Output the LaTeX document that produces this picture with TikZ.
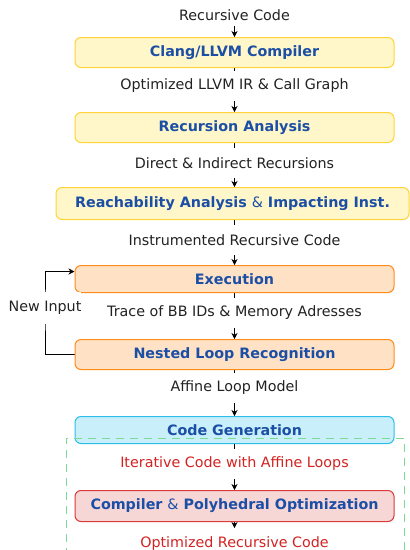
\documentclass[tikz,border=0pt]{standalone}
\usepackage{fontspec}
\setmainfont{DejaVu Sans}
\usetikzlibrary{arrows.meta,backgrounds}
\definecolor{ylwfill}{HTML}{FFF6C9}
\definecolor{ylwline}{HTML}{FFD43B}
\definecolor{orgfill}{HTML}{FFE2C6}
\definecolor{orgline}{HTML}{FF8C1A}
\definecolor{cyanfill}{HTML}{C9EFFA}
\definecolor{cyanline}{HTML}{2CBDEB}
\definecolor{redfill}{HTML}{F7D6D6}
\definecolor{redline}{HTML}{D93A3A}
\definecolor{txtblue}{HTML}{1B4FA6}
\definecolor{txtred}{HTML}{D42222}
\definecolor{txtdark}{HTML}{222222}
\definecolor{dashgreen}{HTML}{7ADB95}
\begin{document}
\begin{tikzpicture}[x=1pt,y=1pt,
  font=\fontsize{14.3}{17}\selectfont,
  stagebox/.style={draw, rounded corners=6pt, line width=1pt, minimum width=319pt,
    minimum height=30pt, inner sep=0pt, font=\fontsize{14.3}{17}\selectfont\bfseries, text=txtblue},
  ylw/.style={stagebox, fill=ylwfill, draw=ylwline},
  org/.style={stagebox, fill=orgfill, draw=orgline},
  cyn/.style={stagebox, fill=cyanfill, draw=cyanline},
  rdb/.style={stagebox, fill=redfill, draw=redline},
  flowlabel/.style={fill=white, inner sep=0pt, minimum height=30pt, text=txtdark},
  redlabel/.style={flowlabel, text=txtred},
  conn/.style={-{Stealth[length=6pt,width=6pt]}, line width=0.6pt, black}
]
\useasboundingbox (0,0) rectangle (410,-550);

\node[flowlabel, minimum height=20pt] (in) at (234.5,-15.5) {Recursive Code};
\node[ylw] (box1) at (234.5,-52.5) {Clang/LLVM Compiler};
\node[flowlabel] (lab1) at (234.5,-86) {Optimized LLVM IR \& Call Graph};
\node[ylw] (box2) at (234.5,-127.5) {Recursion Analysis};
\node[flowlabel] (lab2) at (234.5,-163) {Direct \& Indirect Recursions};
\node[ylw, minimum width=353pt, minimum height=32pt] (box3) at (232.5,-203.5)
  {Reachability Analysis {\mdseries\&} Impacting Inst.};
\node[flowlabel] (lab3) at (234.5,-240) {Instrumented Recursive Code};
\node[org, minimum height=27pt] (box4) at (234.5,-279) {Execution};
\node[flowlabel] (lab4) at (234.5,-313) {Trace of BB IDs \& Memory Adresses};
\node[org] (box5) at (234.5,-354.5) {Nested Loop Recognition};
\node[flowlabel] (lab5) at (234.5,-388) {Affine Loop Model};
\node[cyn, minimum height=27pt] (box6) at (234.5,-430) {Code Generation};
\node[redlabel] (lab6) at (234.5,-464) {Iterative Code with Affine Loops};
\node[rdb, minimum height=31pt] (box7) at (234.5,-506) {Compiler {\mdseries\&} Polyhedral Optimization};
\node[redlabel, minimum height=0pt, inner sep=1pt] (lab7) at (234.5,-543.5) {Optimized Recursive Code};
\coordinate (outend) at (234.5,-528);
\node[flowlabel, minimum height=32pt] (newin) at (45,-307.5) {New Input};
\coordinate (fbend) at ([yshift=7.5pt]box4.west);

\begin{scope}[on background layer]
  \draw[conn] (in) -- (box1);
  \draw[conn] (box1) -- (box2);
  \draw[conn] (box2.south) -- (box2.south |- box3.north);
  \draw[conn] (box2.south |- box3.south) -- (box4.north);
  \draw[conn] (box4) -- (box5);
  \draw[conn] (box5) -- (box6);
  \draw[conn] (box6) -- (box7);
  \draw[conn] (box7.south) -- (outend);
  \draw[conn] (box5.west) -| (newin.center) |- (fbend);
\end{scope}

\draw[dashgreen, line width=0.8pt, dash pattern=on 8pt off 6pt]
  (66,-556) -- (66,-438) -- (404,-438) -- (404,-556);
\end{tikzpicture}
\end{document}
